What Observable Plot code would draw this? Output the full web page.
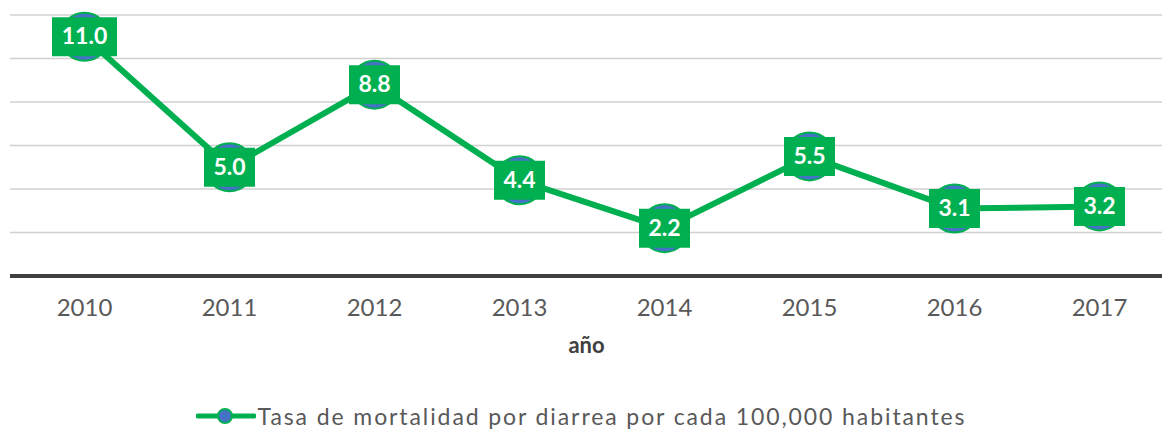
<!DOCTYPE html>
<html>
<head>
<meta charset="utf-8">
<script src="https://cdn.jsdelivr.net/npm/d3@7"></script>
<script src="https://cdn.jsdelivr.net/npm/@observablehq/plot@0.6"></script>
<style>
  html, body { margin: 0; padding: 0; background: white; }
  #wrap { position: relative; width: 1162px; height: 431px; font-family: Lato, "DejaVu Sans", sans-serif; overflow: hidden; }
  #legend { position: absolute; left: 0; top: 399px; width: 1162px; height: 34px; display: flex; justify-content: center; align-items: center; color: #595959; font-size: 23px; line-height: 1; }
  #legend span { letter-spacing: 1.9px; }
  #legend svg { margin-right: 2px; }
</style>
</head>
<body>
<div id="wrap">
  <div id="chart"></div>
  <div id="legend"></div>
</div>
<script>
const years = ["2010", "2011", "2012", "2013", "2014", "2015", "2016", "2017"];
const rates = [11.0, 5.0, 8.8, 4.4, 2.2, 5.5, 3.1, 3.2];
const gridTicks = [2, 4, 6, 8, 10, 12];
const seriesName = "Tasa de mortalidad por diarrea por cada 100,000 habitantes";
const axisTitle = "año";

const data = years.map((y, i) => ({year: y, rate: rates[i], label: rates[i].toFixed(1)}));

const green = "#00B050";
const blue = "#4472C4";

function rectSymbol(w, h) {
  return {draw(context) { context.rect(-w / 2, -h / 2, w, h); }};
}

const H = 380;
const chart = Plot.plot({
  width: 1162,
  height: H,
  marginLeft: 10,
  marginRight: 0,
  marginTop: 0,
  marginBottom: H - 276,
  x: {type: "point", domain: years, range: [82, 1100], padding: 0, label: null},
  y: {domain: [0, 12], range: [275.5, 14.6], axis: null},
  style: {fontFamily: "Lato, 'DejaVu Sans', sans-serif", background: "white", overflow: "visible"},
  marks: [
    Plot.ruleY(gridTicks, {stroke: "#d0d0d0", strokeWidth: 1.5}),
    Plot.ruleY([0], {stroke: "#404040", strokeWidth: 4}),
    Plot.axisX({tickSize: 0, tickPadding: 22, fontSize: 24, color: "#595959", label: null}),
    Plot.text([axisTitle], {frameAnchor: "bottom", dy: 69, fontWeight: "bold", fontSize: 22, fill: "#404040", lineAnchor: "middle", style: "letter-spacing: 1.5px"}),
    Plot.line(data, {x: "year", y: "rate", stroke: green, strokeWidth: 6}),
    Plot.dot(data, {x: "year", y: "rate", r: 24, fill: blue, stroke: green, strokeWidth: 2}),
    Plot.dot(data, {filter: d => d.label.length > 3, x: "year", y: "rate", symbol: rectSymbol(65, 39), fill: green, stroke: "none"}),
    Plot.dot(data, {filter: d => d.label.length <= 3, x: "year", y: "rate", symbol: rectSymbol(51, 39), fill: green, stroke: "none"}),
    Plot.text(data, {x: "year", y: "rate", text: "label", fill: "white", fontWeight: "bold", fontSize: 23})
  ]
});
document.getElementById("chart").appendChild(chart);

const legend = document.getElementById("legend");
legend.innerHTML = `<svg width="60" height="20" viewBox="0 0 60 20">
  <line x1="2" y1="10" x2="58" y2="10" stroke="${green}" stroke-width="5" stroke-linecap="round"/>
  <circle cx="29" cy="10" r="7" fill="${blue}" stroke="${green}" stroke-width="2"/>
</svg><span>${seriesName}</span>`;
</script>
</body>
</html>
